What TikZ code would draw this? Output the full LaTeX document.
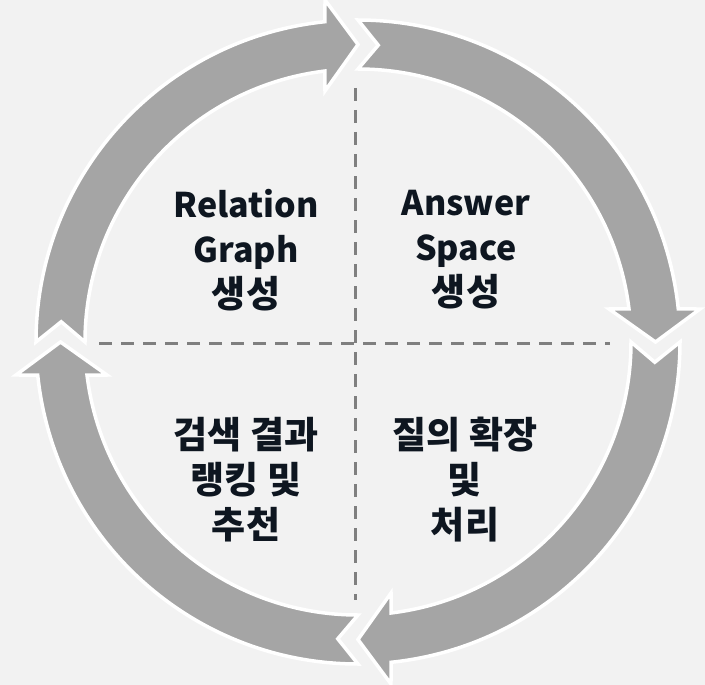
\documentclass[tikz,border=0pt]{standalone}
\usepackage{fontspec}
\setmainfont{Noto Sans CJK KR}
\definecolor{bgc}{HTML}{F2F2F2}
\definecolor{segc}{HTML}{A5A5A5}
\definecolor{dashc}{HTML}{7F7F7F}
\definecolor{txtc}{HTML}{0E1620}
\newcommand\kotext[1]{{\fontsize{37}{45}\selectfont #1}}
\begin{document}
\begin{tikzpicture}[x=1pt,y=-1pt,
  seg/.style={fill=segc,draw=white,line width=3.5pt,line join=miter},
  divider/.style={draw=dashc,line width=3pt,dash pattern=on 13pt off 9pt},
  lbl/.style={font=\fontsize{34}{45}\selectfont\bfseries,text=txtc,align=center,inner sep=0pt}]
\fill[bgc] (0,0) rectangle (705,685);
\useasboundingbox (0,0) rectangle (705,685);
\def\Ro{322}\def\Ri{273}\def\Rm{297.5}
\begin{scope}[shift={(358,342)}]
\foreach \T in {270,360,450,540}{
  \path[seg] (\T:\Ro) arc[start angle=\T,end angle=\T+84.1,radius=\Ro]
    -- (\T+84.49:343.6) -- (\T+90:\Rm) -- (\T+82.51:253.2) -- (\T+83.03:\Ri)
    arc[start angle=\T+83.03,end angle=\T,radius=\Ri]
    -- (\T+3.9:\Rm) -- cycle;
}
\end{scope}
\coordinate (vt) at (355,88);
\coordinate (vb) at (355,600);
\coordinate (hl) at (99,343);
\coordinate (hr) at (610,343);
\draw[divider] (vt) -- (vb);
\draw[divider] (hl) -- (hr);
\node[lbl] (tl) at (246,250) {Relation\\Graph\\\kotext{생성}};
\node[lbl] (tr) at (466,250) {Answer\\Space\\\kotext{생성}};
\node[lbl] (bl) at (246,480) {\kotext{검색 결과}\\\kotext{랭킹 및}\\\kotext{추천}};
\node[lbl] (br) at (465,480) {\kotext{질의 확장}\\\kotext{및}\\\kotext{처리}};
\end{tikzpicture}
\end{document}
